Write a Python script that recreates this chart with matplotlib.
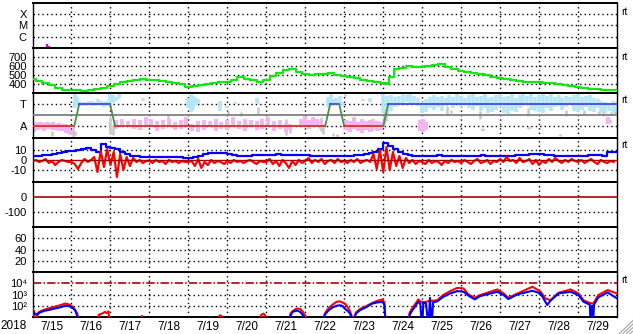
import matplotlib
matplotlib.use('Agg')
import matplotlib.pyplot as plt
import numpy as np
from matplotlib.lines import Line2D

plt.rcParams['font.family'] = ['Liberation Sans', 'DejaVu Sans']

# ---------------- data ----------------
day_labels = ['7/15', '7/16', '7/17', '7/18', '7/19', '7/20', '7/21', '7/22',
              '7/23', '7/24', '7/25', '7/26', '7/27', '7/28', '7/29']
year_label = '2018'
flux_labels = ['10\u2074', '10\u00b3', '10\u00b2']

# X-ray flare marks (day, log10 flux top)
xray_t = [0.36, 0.42]
xray_top = [-6.65, -6.85]

# Solar wind speed (day, km/s)
speed_t = [0.0, 0.167, 0.333, 0.5, 0.667, 0.833,
           1.0, 1.167, 1.333, 1.5, 1.667, 1.833,
           2.0, 2.167, 2.333, 2.5, 2.667, 2.833,
           3.0, 3.167, 3.333, 3.5, 3.667, 3.833,
           4.0, 4.167, 4.333, 4.5, 4.667, 4.833,
           5.0, 5.167, 5.333, 5.5, 5.667, 5.833,
           6.0, 6.167, 6.333, 6.5, 6.667, 6.833,
           7.0, 7.167, 7.333, 7.5, 7.667, 7.833,
           8.0, 8.167, 8.333, 8.5, 8.667, 8.833,
           9.0, 9.12, 9.2, 9.333, 9.5, 9.667, 9.833,
           10.0, 10.167, 10.333, 10.5, 10.667, 10.833,
           11.0, 11.167, 11.333, 11.5, 11.667, 11.833,
           12.0, 12.167, 12.333, 12.5, 12.667, 12.833,
           13.0, 13.167, 13.333, 13.5, 13.667, 13.833,
           14.0, 14.167, 14.333, 14.5, 14.667, 14.833, 15.0]
speed_v = [451, 430, 405, 385, 355, 335,
           325, 328, 322, 327, 338, 352,
           372, 395, 418, 434, 442, 448,
           445, 440, 432, 420, 412, 400,
           365, 372, 384, 400, 410, 420,
           425, 438, 470, 452, 437, 420,
           445, 488, 522, 548, 568, 535,
           512, 500, 505, 508, 518, 497,
           488, 478, 462, 445, 430, 414,
           403, 398, 470, 562, 580, 598, 592,
           592, 598, 605, 620, 590, 565,
           545, 530, 518, 505, 496, 480,
           460, 448, 438, 430, 425, 422,
           418, 412, 405, 395, 382, 370,
           362, 352, 345, 336, 330, 328, 326]

# Sector polarity (T=3, A=1)
sector_t = [0.0, 1.07, 1.2, 1.99, 2.12, 7.51, 7.64, 7.87, 8.0, 9.0, 9.13, 15.0]
sector_v = [1, 1, 3, 3, 1, 1, 3, 3, 1, 1, 3, 3]

# phi-angle scatter ranges: (day, low, high)
toward_t = [1.08, 1.14, 1.2, 1.28, 1.36, 1.44, 1.52, 1.6, 1.68, 1.76, 1.84, 1.92, 1.99, 2.06, 2.14, 2.22,
            2.84, 4.0, 4.06, 4.12, 4.18, 4.25, 4.8, 5.0, 5.2, 5.77,
            7.58, 7.65, 7.72, 7.8, 7.88, 7.95, 8.47, 8.67,
            9.0, 9.1, 9.2, 9.3, 9.4, 9.5, 9.6, 9.7, 9.8, 9.9,
            10.0, 10.1, 10.2, 10.3, 10.4, 10.5, 10.6, 10.7, 10.8, 10.9,
            11.0, 11.1, 11.2, 11.3, 11.4, 11.5, 11.6, 11.7, 11.8, 11.9,
            12.0, 12.1, 12.2, 12.3, 12.4, 12.5, 12.6, 12.7, 12.8, 12.9,
            13.0, 13.1, 13.2, 13.3, 13.4, 13.5, 13.6, 13.7, 13.8, 13.9,
            14.0, 14.1, 14.2, 14.3, 14.4, 14.5, 14.6, 14.7, 14.8, 14.9, 15.0]
toward_lo = [2.6, 2.9, 2.8, 2.85, 2.8, 2.9, 2.85, 2.8, 2.9, 2.8, 2.75, 2.8, 2.9, 3.1, 3.3, 3.4,
             3.3, 2.6, 2.3, 2.5, 2.8, 3.0, 2.4, 2.6, 3.0, 3.0,
             2.7, 2.9, 2.8, 2.9, 3.0, 2.8, 3.3, 3.2,
             2.2, 2.1, 2.4, 2.7, 2.9, 3.0, 3.2, 3.1, 3.0, 2.8,
             2.2, 2.3, 2.6, 2.5, 2.7, 2.4, 2.8, 2.9, 2.6, 3.0,
             2.7, 2.9, 2.6, 2.5, 2.8, 2.4, 2.6, 2.2, 2.3, 2.5,
             2.7, 2.2, 2.1, 2.4, 2.3, 2.6, 2.8, 2.9, 2.5, 2.4,
             2.3, 2.2, 2.6, 2.4, 2.7, 2.8, 2.5, 2.7, 2.9, 2.4,
             2.3, 2.5, 2.7, 2.4, 2.3, 2.6, 2.3, 2.2, 2.4, 2.2, 2.3]
toward_hi = [3.85, 3.6, 3.3, 3.2, 3.15, 3.3, 3.25, 3.2, 3.4, 3.3, 3.2, 3.3, 3.9, 3.8, 3.6, 3.9,
             3.55, 3.5, 3.9, 3.7, 3.6, 3.4, 3.3, 2.8, 3.2, 3.5,
             3.6, 3.9, 3.4, 3.5, 3.7, 3.2, 3.4, 3.5,
             3.9, 3.7, 3.8, 3.6, 3.7, 3.9, 3.8, 3.9, 3.7, 3.5,
             3.2, 3.4, 3.6, 3.8, 3.6, 3.7, 3.5, 3.8, 3.6, 3.9,
             3.7, 3.5, 3.8, 3.9, 3.6, 3.7, 3.9, 3.5, 3.6, 3.8,
             3.9, 3.6, 3.7, 3.9, 3.5, 3.8, 3.9, 3.7, 3.9, 3.6,
             3.8, 3.9, 3.7, 3.9, 3.6, 3.8, 3.5, 3.7, 3.6, 3.8,
             3.9, 3.6, 3.7, 3.8, 3.5, 3.4, 3.3, 3.2, 3.1, 3.3, 3.2]

away_t = [0.05, 0.13, 0.21, 0.29, 0.37, 0.45, 0.53, 0.61, 0.69, 0.77, 0.85, 0.93, 1.0,
          2.15, 2.3, 2.45, 2.6, 2.75, 2.9, 3.05, 3.2, 3.35, 3.5, 3.65, 3.8, 3.95,
          4.1, 4.25, 4.4, 4.55, 4.7, 4.85, 5.0, 5.15, 5.3, 5.45, 5.6, 5.75, 5.9,
          6.05, 6.2, 6.35, 6.5, 6.6,
          6.9, 7.0, 7.1, 7.2, 7.3, 7.4,
          8.05, 8.15, 8.25, 8.35, 8.45, 8.55, 8.65, 8.75, 8.85, 8.95,
          9.95, 10.03, 10.1, 11.55, 12.73, 14.78, 14.83]
away_lo = [0.5, 0.7, 0.8, 0.6, 0.75, 0.8, 0.7, 0.65, 0.55, 0.6, 0.4, 0.3, 0.2,
           0.8, 0.9, 1.0, 0.8, 0.7, 0.9, 1.0, 0.6, 0.8, 0.9, 0.7, 0.8, 1.0,
           0.6, 0.5, 0.7, 0.9, 0.6, 0.8, 0.7, 0.9, 0.8, 0.6, 0.9, 0.7, 0.8,
           0.9, 0.6, 0.8, 0.5, 0.7,
           0.9, 1.0, 0.8, 0.9, 1.1, 0.8,
           0.7, 0.5, 0.8, 0.6, 0.4, 0.7, 0.5, 0.8, 0.6, 0.7,
           0.6, 0.5, 0.7, 0.6, 0.8, 1.2, 1.3]
away_hi = [1.3, 1.35, 1.4, 1.3, 1.35, 1.3, 1.4, 1.25, 1.3, 1.25, 1.2, 1.05, 0.7,
           1.6, 1.7, 1.5, 1.7, 1.6, 1.8, 1.7, 1.5, 1.6, 1.7, 1.4, 1.6, 1.8,
           1.2, 1.5, 1.6, 1.5, 1.7, 1.4, 1.6, 1.8, 1.5, 1.7, 1.6, 1.5, 1.7,
           1.8, 1.5, 1.6, 1.3, 1.2,
           1.7, 1.9, 1.6, 1.8, 1.7, 1.5,
           1.6, 1.5, 1.8, 1.4, 1.7, 1.5, 1.6, 1.7, 1.5, 1.4,
           1.6, 1.7, 1.4, 0.75, 0.95, 1.8, 1.6]

grey_t = [0.5, 1.05, 1.1, 2.0, 2.06, 3.48, 5.02, 5.35, 5.78, 6.5, 6.62, 7.4, 7.45, 7.72, 7.82,
          8.02, 8.72, 9.03, 9.08, 10.65, 10.75, 11.48, 12.72, 12.8, 13.55, 13.7, 14.15,
          14.55, 14.65, 14.85, 14.95]
grey_lo = [0.1, 0.0, 0.2, 0.3, 0.2, 1.7, 2.0, 1.9, 2.1, 0.2, 0.4, 0.6, 0.3, 0.1, 0.0,
           3.7, 0.6, 1.2, 1.5, 2.0, 2.2, 1.7, 1.9, 3.7, 0.1, 1.9, 2.1,
           2.0, 1.9, 2.0, 2.1]
grey_hi = [0.6, 0.9, 0.6, 1.8, 1.2, 2.1, 2.4, 2.3, 2.7, 1.7, 1.1, 1.8, 1.2, 0.4, 0.3,
           3.9, 0.9, 2.6, 2.3, 2.8, 2.5, 2.4, 2.6, 3.95, 0.3, 2.5, 2.5,
           2.4, 2.6, 2.3, 2.7]

# IMF Bz (2-hour samples, nT)
bz = [-1, 0, -2, -1, 1, -3, -1, -5, -2, 0, -1, -2,
      -2, -4, -9, -3, 1, -2, 0, 3, -12, 9, -7, 11,
      -5, 8, -17, 6, -10, 3, -6, 2, -2, 0, -3, -1,
      -1, -3, 0, -2, -1, -4, 0, -2, -1, -3, -1, -2,
      -2, -1, -6, 1, -8, -2, -5, 0, -3, -1, -2, -4,
      -1, -3, 0, -2, -1, -3, -1, 0, -2, -4, -1, -2,
      -2, 1, -4, -1, -6, 0, -3, -8, -1, -5, 0, -3,
      -1, 2, -3, 0, -2, 1, -4, -1, 0, -3, 1, -2,
      -1, -3, 0, -2, 1, -3, -1, 0, -2, 6, -9, 10,
      -12, 13, -10, 8, -6, 4, -8, 2, -3, 0, -4, -1,
      -2, -4, 0, -3, -1, -2, -5, -1, -3, 0, -2, -1,
      -3, 0, -2, -4, -1, 1, -3, -2, 0, -4, -1, -2,
      1, -2, 3, -1, 0, -3, 2, -2, -1, 1, -4, 0,
      -5, -1, -3, 1, -2, 2, -1, -3, 0, -2, 1, -1,
      -2, 0, -3, -1, 1, -2, -4, 0, -2, -3, -1, -2]

# IMF Bt (3-hour samples, nT)
bt = [4.5, 4.5, 5, 5.5, 6.5, 7.5, 8, 9,
      9.5, 10.5, 11, 12, 10, 8, 16, 13,
      12, 11, 8, 6, 4.5, 4, 3.5, 3.5,
      3.5, 3.5, 3.5, 3.5, 3, 3, 3, 2.5,
      2.2, 3, 4.5, 6, 7, 7.5, 7.5, 7,
      6, 5.5, 4.5, 4.5, 4.5, 5, 5, 5,
      5, 5.5, 6, 5.5, 5, 5, 5.5, 5.5,
      5, 4.5, 4.5, 4.5, 4.5, 4.5, 4.5, 4.5,
      4.5, 4.5, 5, 5.5, 6, 7, 8, 11,
      17, 14.5, 11, 8, 6, 5, 4.5, 4.5,
      4.5, 4.5, 4.5, 5, 4.5, 4.5, 4.5, 4.5,
      4.5, 4.5, 4.5, 4.5, 5, 4.5, 4.5, 4.5,
      4.5, 4.5, 4.5, 5, 5.5, 5.5, 6, 6,
      6, 5.5, 5, 4.5, 4.5, 4.5, 4.5, 4.5,
      4.5, 4.5, 5, 5, 5, 4.5, 8, 8]

# particle flux (log10), red and blue channels
red_t = [0.0, 0.04, 0.06, 0.1, 0.13, 0.19, 0.3, 0.45, 0.6, 0.71, 0.84, 0.96, 1.05, 1.1, 1.15, 1.2,
         1.65, 1.7, 1.78, 1.86, 1.9, 1.95, 2.0, 2.78, 2.81, 2.84, 4.75, 4.8, 4.85, 4.88,
         5.82, 5.87, 5.93, 5.97, 6.0, 6.56, 6.62, 6.67, 6.75, 6.8, 6.87, 6.93, 6.98, 7.03, 7.08,
         7.44, 7.5, 7.6, 7.7, 7.8, 7.88, 7.95, 8.03, 8.1, 8.15, 8.22, 8.27, 8.3, 8.4, 8.55,
         8.72, 8.85, 8.98, 9.03, 9.07, 9.62, 9.68, 9.73, 9.77, 9.85, 9.9, 9.95, 10.03, 10.1,
         10.2, 10.28, 10.39, 10.54, 10.72, 10.9, 11.06, 11.19, 11.35, 11.49, 11.75, 11.93,
         12.09, 12.21, 12.45, 12.83, 13.04, 13.16, 13.29, 13.5, 13.81, 14.01, 14.14, 14.3,
         14.38, 14.41, 14.52, 14.76, 15.0]
red_log = [1.75, 1.5, 0.5, 0.6, 1.35, 1.5, 1.65, 1.8, 1.95, 2.05, 2.2, 2.1, 1.85, 1.6, 1.3, 0.0,
           0.0, 1.2, 1.3, 1.45, 1.35, 1.5, 0.0, 0.0, 1.1, 0.0, 0.0, 1.15, 1.1, 0.0,
           0.0, 1.2, 1.3, 1.15, 0.0, 0.0, 1.3, 1.5, 1.7, 1.75, 1.72, 1.5, 1.2, 1.0, 0.0,
           0.0, 1.3, 1.8, 2.1, 2.35, 2.4, 2.3, 2.15, 1.8, 1.5, 0.8, 1.1, 1.4, 1.7, 1.95,
           2.25, 2.45, 2.57, 2.3, 0.0, 0.0, 1.4, 1.7, 1.9, 2.3, 2.57, 2.4, 2.3, 2.35,
           2.45, 2.45, 2.5, 2.96, 3.31, 3.6, 3.55, 3.0, 2.72, 2.96, 3.25, 3.46,
           3.1, 2.72, 3.1, 3.7, 3.25, 2.66, 2.5, 3.16, 3.46, 3.1, 2.5, 2.25,
           2.2, 2.3, 2.96, 3.4, 3.1]

blue_t = [0.0, 0.06, 0.12, 0.19, 0.3, 0.45, 0.6, 0.71, 0.84, 0.96, 1.05, 1.1, 1.15, 1.2,
          6.58, 6.62, 6.67, 6.75, 6.8, 6.87, 6.93, 6.98, 7.0,
          7.46, 7.5, 7.6, 7.7, 7.8, 7.88, 7.95, 8.03, 8.1, 8.15, 8.22, 8.27, 8.3, 8.4, 8.55,
          8.72, 8.85, 8.98, 9.03, 9.07, 9.64, 9.68, 9.73, 9.77, 9.85, 9.9, 9.95, 10.0, 10.03,
          10.1, 10.16, 10.2, 10.24, 10.28, 10.39, 10.54, 10.72, 10.9, 11.06, 11.19, 11.35,
          11.49, 11.75, 11.93, 12.09, 12.21, 12.45, 12.83, 13.04, 13.16, 13.21, 13.29, 13.5,
          13.81, 14.01, 14.14, 14.3, 14.33, 14.36, 14.38, 14.41, 14.52, 14.76, 15.0]
blue_log = [1.55, 1.3, 1.2, 1.4, 1.55, 1.65, 1.78, 1.86, 2.0, 1.95, 1.75, 1.55, 1.1, 0.0,
            0.0, 1.1, 1.44, 1.55, 1.56, 1.45, 1.2, 0.9, 0.0,
            0.0, 1.2, 1.6, 1.85, 2.0, 2.05, 2.0, 1.7, 1.5, 1.3, 0.5, 1.0, 1.3, 1.6, 1.85,
            2.2, 2.3, 2.36, 2.1, 0.0, 0.0, 1.2, 1.5, 1.7, 2.1, 2.36, 2.2, 0.0, 2.3,
            2.2, 0.0, 2.7, 0.0, 2.3, 2.4, 2.8, 3.1, 3.31, 3.25, 2.9, 2.57,
            2.87, 3.1, 3.25, 2.96, 2.6, 3.02, 3.34, 3.1, 2.36, 2.07, 2.44, 3.1,
            3.25, 2.96, 2.36, 2.1, 0.0, 2.0, 0.0, 2.1, 2.75, 3.19, 2.66]

# ---------------- layout ----------------
W, H = 633, 334
fig = plt.figure(figsize=(W / 100, H / 100), dpi=100)
L, R, T, B = 32.5, 617.0, 3.0, 317.0
n = 7
ph = (B - T) / n
FS = 8
axes = []
for i in range(n):
    top = T + i * ph
    ax = fig.add_axes([L / W, 1 - (top + ph) / H, (R - L) / W, ph / H])
    ax.set_xlim(0, 15)
    ax.set_facecolor('white')
    for s in ('top', 'bottom'):
        ax.spines[s].set_linewidth(1.4)
    for s in ('left', 'right'):
        ax.spines[s].set_linewidth(1.0)
    ax.tick_params(axis='both', length=0, labelsize=FS, pad=4)
    ax.set_xticks([])
    axes.append(ax)

DOT = (0, (1, 2.2))
for ax in axes:
    for d in range(1, 15):
        ax.axvline(d, color='black', lw=1.0, ls=DOT, zorder=1)


def hgrid(ax, ys):
    for y in ys:
        ax.axhline(y, color='black', lw=1.0, ls=DOT, zorder=1)


DARKRED = '#b00000'

# Panel 1: X-ray class
ax = axes[0]
ax.set_yscale('log')
ax.set_ylim(1e-7, 1e-3)
hgrid(ax, [1e-4, 1e-5, 1e-6])
ax.set_yticks([1e-4, 1e-5, 1e-6], ['X', 'M', 'C'])
ax.minorticks_off()
ax.vlines(xray_t, 1e-7, [10.0 ** v for v in xray_top], colors='#e000e0', lw=1.5, zorder=3)

# Panel 2: speed
ax = axes[1]
ax.set_ylim(300, 800)
hgrid(ax, [400, 500, 600, 700])
ax.set_yticks([700, 600, 500, 400], ['700', '600', '500', '400'])
ax.plot(speed_t, speed_v, color='#10e810', lw=1.6, drawstyle='steps-mid', zorder=3)

# Panel 3: polarity
ax = axes[2]
ax.set_ylim(0, 4)
hgrid(ax, [1, 3])
ax.set_yticks([3, 1], ['T', 'A'])
ax.vlines(grey_t, grey_lo, grey_hi, colors='#c8c8c8', lw=1.8, zorder=2)
ax.vlines(away_t, away_lo, away_hi, colors='#f4b4ee', lw=2.8, zorder=2)
ax.vlines(toward_t, toward_lo, toward_hi, colors='#b4e6f8', lw=2.6, zorder=2)
ax.axhline(2, color='#808080', lw=1.3, zorder=3)
for i in range(len(sector_t) - 1):
    v0, v1 = sector_v[i], sector_v[i + 1]
    if v0 != v1:
        c = '#4f8a4f'
    elif v0 == 3:
        c = '#4848e0'
    else:
        c = '#d83030'
    ax.plot(sector_t[i:i + 2], sector_v[i:i + 2], color=c, lw=1.3, zorder=4)

# Panel 4: Bt / Bz
ax = axes[3]
ax.set_ylim(-22.5, 22.5)
hgrid(ax, [10, -10])
ax.set_yticks([10, 0, -10], ['10', '0', '-10'])
bt_t = np.arange(len(bt)) * 3 / 24.0
bz_t = np.arange(len(bz)) * 2 / 24.0
ax.plot(np.append(bt_t, 15.0), np.append(bt, bt[-1]), color='#0000ff', lw=1.6,
        drawstyle='steps-post', zorder=3)
ax.plot(bz_t, bz, color='#ff0000', lw=1.6, zorder=4)
ax.axhline(0, color=DARKRED, lw=1.0, zorder=5)

# Panel 5
ax = axes[4]
ax.set_ylim(-200, 100)
hgrid(ax, [-100])
ax.set_yticks([0, -100], ['0', '-100'])
ax.axhline(0, color=DARKRED, lw=1.2, zorder=3)

# Panel 6
ax = axes[5]
ax.set_ylim(0, 80)
hgrid(ax, [20, 40, 60])
ax.set_yticks([60, 40, 20], ['60', '40', '20'])

# Panel 7: flux
ax = axes[6]
ax.set_yscale('log')
ax.set_ylim(1e1, 1e5)
hgrid(ax, [1e3, 1e2])
ax.set_yticks([1e4, 1e3, 1e2], flux_labels)
ax.minorticks_off()
ax.axhline(1e4, color=DARKRED, lw=1.2, ls=(0, (5.0, 1.3, 0.9, 1.3)), zorder=2)
ax.plot(red_t, [10.0 ** v for v in red_log], color='#ff0000', lw=1.5, zorder=3)
ax.plot(blue_t, [10.0 ** v for v in blue_log], color='#0000ff', lw=1.5, zorder=4)
ax.set_xticks(np.arange(15) + 0.5, day_labels)
ax.tick_params(axis='x', length=0, labelsize=FS + 0.5, pad=3)

for a in axes:
    for lab in a.get_yticklabels():
        lab.set_fontsize(FS)
        lab.set_family(['Liberation Sans', 'DejaVu Sans'])

fig.text(27 / W, 1 - 326 / H, year_label, ha='right', va='center', fontsize=FS + 0.5)

# "rt" markers at right
for ypx in [12, 57, 100, 145, 280]:
    fig.text(621 / W, 1 - ypx / H, 'rt', ha='left', va='center', fontsize=7.5)

# resize grip
for k in range(4):
    off = 3 + k * 3.5
    fig.add_artist(Line2D([(W - off) / W, (W) / W], [1 - (H - 0.5) / H, 1 - (H - off) / H],
                          color='#a0a0a0', lw=0.8))

fig.savefig('out.png', dpi=100)
